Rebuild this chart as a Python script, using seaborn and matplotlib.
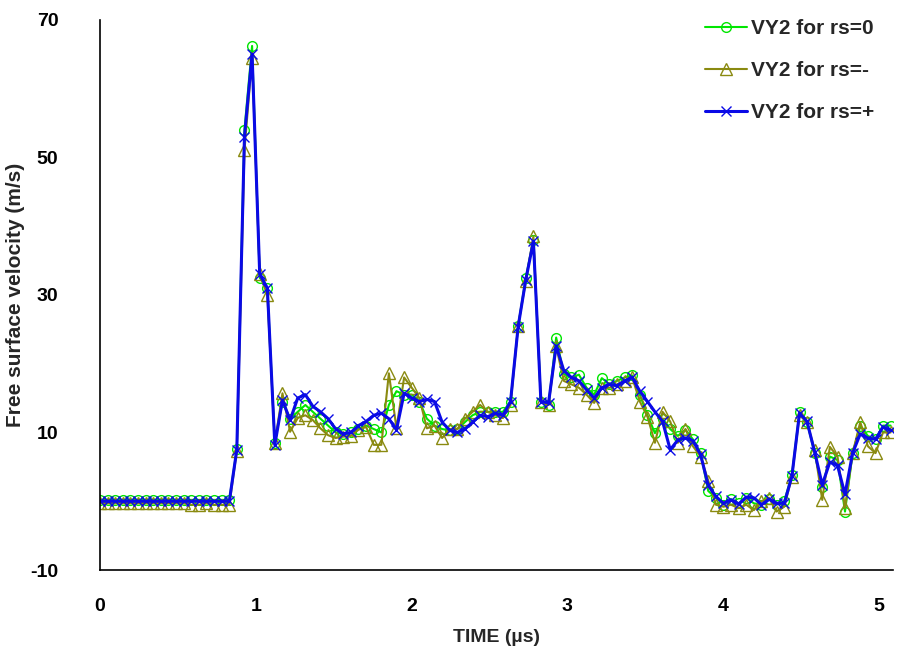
#!/usr/bin/env python3

"""Free surface velocity vs time for three rs cases."""

import pandas as pd
import seaborn as sns
import matplotlib
matplotlib.use("Agg")
import matplotlib.pyplot as plt

# TIME SAMPLES (µs)
TIME = [
    0.000, 0.049, 0.098, 0.146, 0.195, 0.244, 0.293, 0.342, 0.390, 0.439,
    0.488, 0.537, 0.586, 0.634, 0.683, 0.732, 0.781, 0.830, 0.878, 0.927,
    0.976, 1.025, 1.074, 1.122, 1.171, 1.220, 1.269, 1.318, 1.366, 1.415,
    1.464, 1.513, 1.562, 1.610, 1.659, 1.708, 1.757, 1.806, 1.854, 1.903,
    1.952, 2.001, 2.050, 2.098, 2.147, 2.196, 2.245, 2.294, 2.342, 2.391,
    2.440, 2.489, 2.538, 2.586, 2.635, 2.684, 2.733, 2.782, 2.830, 2.879,
    2.928, 2.977, 3.026, 3.074, 3.123, 3.172, 3.221, 3.270, 3.318, 3.367,
    3.416, 3.465, 3.514, 3.562, 3.611, 3.660, 3.709, 3.758, 3.806, 3.855,
    3.904, 3.953, 4.002, 4.050, 4.099, 4.148, 4.197, 4.246, 4.294, 4.343,
    4.392, 4.441, 4.490, 4.538, 4.587, 4.636, 4.685, 4.734, 4.782, 4.831,
    4.880, 4.929, 4.978, 5.026, 5.075,
]

# VY2 for rs=0 (green)
VY2_ZERO = [
    0.2, 0.2, 0.2, 0.2, 0.2, 0.2, 0.2, 0.2, 0.2, 0.2,
    0.2, 0.2, 0.2, 0.2, 0.2, 0.2, 0.2, 0.2, 7.6, 54.0,
    66.2, 32.5, 31.0, 8.5, 14.5, 12.0, 13.0, 14.0, 13.0, 12.0,
    11.0, 10.0, 9.8, 10.0, 10.5, 11.0, 10.5, 10.0, 14.0, 16.0,
    15.5, 15.5, 14.5, 12.0, 11.0, 10.5, 10.3, 10.5, 11.5, 12.5,
    13.0, 13.0, 13.0, 13.0, 14.5, 25.5, 32.5, 38.0, 14.5, 14.0,
    23.8, 18.5, 18.0, 18.4, 16.5, 15.5, 17.9, 17.0, 17.5, 18.0,
    18.3, 15.5, 12.5, 9.9, 12.0, 10.5, 9.5, 10.4, 9.0, 7.0,
    1.5, 0.5, -0.5, 0.3, -0.3, 0.5, -0.3, -0.5, 0.3, -0.5,
    0.0, 3.8, 13.0, 11.5, 7.0, 2.0, 6.5, 6.0, -1.5, 7.0,
    11.0, 9.5, 9.0, 11.0, 11.0,
]

# VY2 for rs=- (olive)
VY2_MINUS = [
    -0.3, -0.3, -0.3, -0.3, -0.3, -0.3, -0.3, -0.3, -0.3, -0.3,
    -0.3, -0.3, -0.5, -0.5, -0.3, -0.5, -0.5, -0.5, 7.3, 51.0,
    64.5, 33.0, 30.0, 8.5, 15.7, 10.1, 12.1, 12.5, 11.8, 10.6,
    9.6, 9.2, 9.4, 9.5, 10.4, 10.8, 8.2, 8.2, 18.6, 10.6,
    18.0, 16.5, 15.0, 10.6, 11.0, 9.2, 10.5, 10.5, 12.0, 13.0,
    14.0, 13.0, 12.5, 12.1, 14.0, 25.5, 32.0, 38.5, 14.5, 14.0,
    22.5, 17.5, 17.0, 16.5, 15.5, 14.3, 16.5, 16.5, 17.0, 17.5,
    18.0, 14.5, 12.3, 8.5, 13.0, 11.6, 8.5, 10.5, 8.0, 6.5,
    3.0, -0.5, -0.8, -0.5, -1.0, -0.5, -1.3, 0.0, 0.5, -1.5,
    -0.8, 3.5, 12.5, 11.5, 7.5, 0.2, 7.9, 6.5, -1.0, 7.0,
    11.5, 8.0, 7.0, 10.0, 10.0,
]

# VY2 for rs=+ (blue)
VY2_PLUS = [
    0.0, 0.0, 0.0, 0.0, 0.0, 0.0, 0.0, 0.0, 0.0, 0.0,
    0.0, 0.0, 0.0, 0.0, 0.0, 0.0, 0.0, 0.0, 7.5, 53.0,
    65.0, 33.0, 31.0, 8.2, 14.7, 11.8, 15.0, 15.5, 13.8, 13.0,
    12.0, 10.5, 9.8, 10.0, 11.0, 11.6, 12.5, 12.8, 12.0, 10.4,
    15.7, 15.0, 14.5, 14.8, 14.5, 11.5, 10.3, 10.0, 10.5, 11.5,
    12.5, 12.3, 12.8, 12.5, 14.5, 25.4, 32.2, 37.8, 14.5, 14.3,
    22.6, 19.0, 18.0, 17.5, 16.2, 15.0, 16.5, 17.0, 16.8, 17.5,
    18.0, 16.0, 14.5, 13.0, 11.6, 7.5, 8.9, 9.2, 8.8, 6.8,
    2.3, 0.7, -0.3, 0.2, -0.4, 0.6, 0.5, -0.5, 0.3, -0.3,
    -0.3, 3.6, 12.8, 11.6, 7.2, 2.4, 5.7, 5.2, 1.0, 7.0,
    9.8, 9.2, 9.0, 10.8, 10.3,
]

LABELS = ["VY2 for rs=0", "VY2 for rs=-", "VY2 for rs=+"]
COLORS = ["#00e600", "#8a8a10", "#0a0ae6"]
MARKERS = ["o", "^", "x"]
MSIZES = [7, 9, 7]
LWIDTHS = [1.5, 1.5, 2.2]

sns.set_style("white")
plt.rcParams["font.family"] = ["Liberation Sans", "DejaVu Sans"]
plt.rcParams["axes.unicode_minus"] = False

fig = plt.figure(figsize=(8.98, 6.59), dpi=100)
ax = fig.add_axes([0.1114, 0.135, 0.883, 0.835])

for y, lab, col, mk, ms, lw in zip(
    [VY2_ZERO, VY2_MINUS, VY2_PLUS], LABELS, COLORS, MARKERS, MSIZES, LWIDTHS
):
    sns.lineplot(
        x=TIME, y=y, ax=ax, label=lab, color=col, linewidth=lw,
        marker=mk, markersize=ms, markerfacecolor="none",
        markeredgecolor=col, markeredgewidth=1.0, estimator=None, sort=False,
    )

ax.set_xlim(0, 5.09)
ax.set_ylim(-10, 70)
ax.set_xticks([0, 1, 2, 3, 4, 5])
ax.set_yticks([-10, 10, 30, 50, 70])
ax.tick_params(direction="in", length=5, width=1, colors="black",
               labelsize=14)
ax.tick_params(axis="x", pad=20)
ax.tick_params(axis="y", pad=30)
for t in ax.get_xticklabels() + ax.get_yticklabels():
    t.set_fontweight("bold")

sns.despine(ax=ax)
for s in ("left", "bottom"):
    ax.spines[s].set_color("black")
    ax.spines[s].set_linewidth(1.2)

ax.set_xlabel("TIME (µs)", fontsize=14, fontweight="bold", labelpad=10)
ax.set_ylabel("Free surface velocity (m/s)", fontsize=15, fontweight="bold",
              labelpad=4)

leg = ax.legend(loc="upper right", bbox_to_anchor=(1.0, 1.035), frameon=False,
                fontsize=15, labelspacing=1.1, handlelength=2.0,
                handletextpad=0.2)
for t in leg.get_texts():
    t.set_fontweight("bold")

fig.savefig("out.png", dpi=100)
